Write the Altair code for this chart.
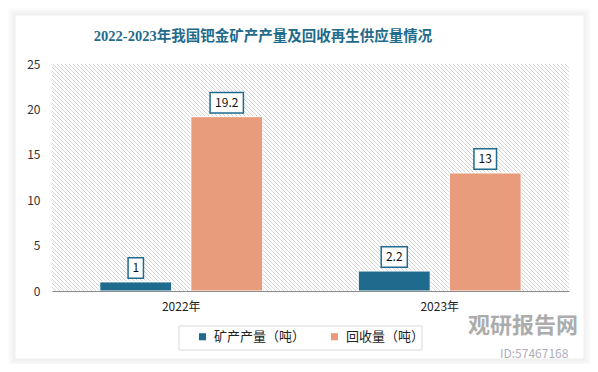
import altair as alt
import pandas as pd
import numpy as np

# ---- data ----
years = ["2022年", "2023年"]
series = ["矿产产量（吨）", "回收量（吨）"]
mining = [1, 2.2]
recycle = [19.2, 13]
title_text = "2022-2023年我国钯金矿产产量及回收再生供应量情况"

rows = []
for i, y in enumerate(years):
    rows.append({"year": y, "series": series[0], "value": mining[i]})
    rows.append({"year": y, "series": series[1], "value": recycle[i]})
df = pd.DataFrame(rows)
df["label"] = [f"{v:g}" for v in df["value"]]

TEAL = "#1f6b8e"
ORANGE = "#e89c7c"
W, H = 517, 227
FONT = "Noto Sans CJK SC"

# ---- decorative layers (pixel space) ----
shadow_df = pd.DataFrame({"k": np.arange(1, 9)})
shadow = alt.Chart(shadow_df).transform_calculate(
    x1="-36 - datum.k", x2b="531 + datum.k", y1="-48 - datum.k", y2b="294 + datum.k",
    op="0.075 - datum.k*0.008"
).mark_rect(fill=None, stroke="#000", strokeWidth=1).encode(
    x=alt.X("x1:Q", scale=None, axis=None),
    x2="x2b:Q",
    y=alt.Y("y1:Q", scale=None, axis=None),
    y2="y2b:Q",
    strokeOpacity=alt.StrokeOpacity("op:Q", scale=None),
)

legend_box = alt.Chart(pd.DataFrame({"a": [0]})).mark_rect(
    fill=None, stroke="#d9d9d9", strokeWidth=1
).encode(
    x=alt.value(127), x2=alt.value(370), y=alt.value(262), y2=alt.value(286)
)

hatch_df = pd.DataFrame({"s": np.arange(-H, W + 4, 4)})
hatch = alt.Chart(hatch_df).transform_calculate(
    xa="datum.s", xb=f"datum.s + {H}", ya="0", yb=f"{H}"
).mark_rule(stroke="#c8c8c8", strokeWidth=0.8, clip=True).encode(
    x=alt.X("xa:Q", scale=None, axis=None),
    x2="xb:Q",
    y=alt.Y("ya:Q", scale=None, axis=None),
    y2="yb:Q",
)

# ---- bars ----
xenc = alt.X("year:N", sort=years, title=None,
             scale=alt.Scale(paddingInner=0.37, paddingOuter=0.185),
             axis=alt.Axis(labelAngle=0, ticks=False, domainColor="#8c8c8c",
                           domainWidth=1, labelFontSize=12, labelColor="#222",
                           labelFont=FONT, labelPadding=10, zindex=1))
xoff = alt.XOffset("series:N", sort=series,
                   scale=alt.Scale(paddingInner=0.21, paddingOuter=0))
yenc = alt.Y("value:Q", title=None,
             scale=alt.Scale(domain=[0, 25], nice=False),
             axis=alt.Axis(values=[0, 5, 10, 15, 20, 25], grid=False, domain=False,
                           ticks=False, labelFontSize=12, labelColor="#333",
                           labelFont=FONT, labelPadding=12))

base = alt.Chart(df)

bars = base.mark_bar(stroke="white", strokeWidth=1).encode(
    x=xenc, xOffset=xoff, y=yenc,
    color=alt.Color("series:N", sort=series,
                    scale=alt.Scale(domain=series, range=[TEAL, ORANGE]),
                    legend=alt.Legend(title=None, orient="none", legendX=144, legendY=266,
                                      direction="horizontal", symbolType="square",
                                      symbolSize=50, symbolStrokeWidth=0,
                                      labelFontSize=13, labelFont=FONT, labelColor="#222",
                                      columnPadding=22, labelOffset=5, padding=0)),
)

boxes = base.transform_calculate(
    hasdot="indexof(datum.label, '.') >= 0 ? 1 : 0",
).transform_calculate(
    bw="(length(datum.label) - datum.hasdot) * 7 + datum.hasdot * 3.5 + 8",
).transform_calculate(
    hw="datum.bw / 20",
).transform_calculate(
    path="'M' + (-datum.hw) + ',-1L' + datum.hw + ',-1L' + datum.hw + ',1L' + (-datum.hw) + ',1Z'",
).mark_point(filled=True, fill="white", stroke=TEAL, strokeWidth=1.5,
             opacity=1, size=420, yOffset=-14).encode(
    x=xenc, xOffset=xoff, y=yenc,
    shape=alt.Shape("path:N", scale=None),
)

labels = base.mark_text(yOffset=-14, fontSize=12, font=FONT, color="#111",
                        baseline="middle").encode(
    x=xenc, xOffset=xoff, y=yenc, text="label:N"
)

title = alt.Chart(pd.DataFrame({"t": [title_text]})).mark_text(
    font="Liberation Serif, Noto Sans CJK SC", fontSize=14.5, fontWeight="bold",
    color="#1f6b8c", align="center", baseline="middle"
).encode(x=alt.value(211), y=alt.value(-27), text="t:N")

wm1 = alt.Chart(pd.DataFrame({"t": ["观研报告网"]})).mark_text(
    font=FONT, fontSize=22, fontWeight="bold", color="#8a8a8a", opacity=0.7,
    align="left", baseline="middle"
).encode(x=alt.value(416), y=alt.value(262), text="t:N")
wm2 = alt.Chart(pd.DataFrame({"t": ["ID:57467168"]})).mark_text(
    font=FONT, fontSize=12, color="#9a9aaa", opacity=0.8,
    align="left", baseline="middle"
).encode(x=alt.value(448), y=alt.value(290), text="t:N")

chart = alt.layer(shadow, legend_box, hatch, bars, boxes, labels, title, wm1, wm2).properties(
    width=W, height=H,
    autosize=alt.AutoSizeParams(type="none"),
    padding={"left": 44, "top": 56, "right": 21, "bottom": 73},
    background="white",
).configure_view(stroke=None)

chart.save("out.html", embed_options={"renderer": "svg", "actions": False})
